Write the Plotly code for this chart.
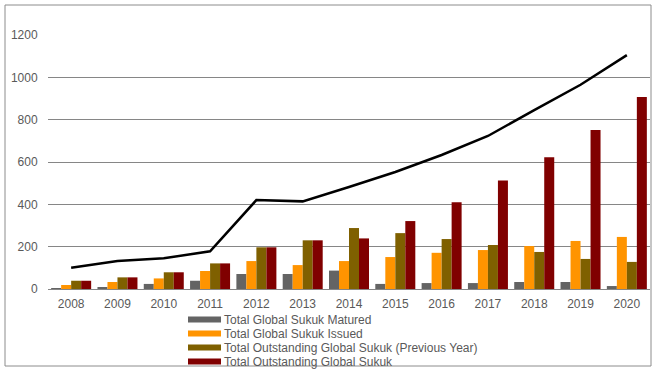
import plotly.graph_objects as go

years = ["2008", "2009", "2010", "2011", "2012", "2013", "2014",
         "2015", "2016", "2017", "2018", "2019", "2020"]
matured = [3, 9, 24, 39, 71, 71, 87, 24, 28, 28, 33, 33, 14]
issued = [19, 33, 50, 85, 132, 113, 132, 151, 171, 184, 203, 227, 246]
outstanding_prev = [39, 55, 79, 121, 197, 230, 288, 264, 236, 208, 175, 142, 128]
outstanding = [39, 55, 79, 121, 197, 230, 239, 321, 410, 513, 623, 751, 907]
total_line = [100, 132, 145, 178, 420, 414, 482, 553, 633, 723, 845, 965, 1105]

series_names = ["Total Global Sukuk Matured", "Total Global Sukuk Issued",
                "Total Outstanding Global Sukuk (Previous Year)",
                "Total Outstanding Global Sukuk"]
series_values = [matured, issued, outstanding_prev, outstanding]
series_colors = ["#646464", "#FF9400", "#7F6000", "#800000"]

W, H = 657, 373
L, R, T, B = 48, 7, 35, 84
PW, PH = W - L - R, H - T - B

def px(x):
    return (x - L) / PW

def py(y):
    return (H - B - y) / PH

fig = go.Figure()
for name, vals, col in zip(series_names, series_values, series_colors):
    fig.add_trace(go.Bar(x=years, y=vals, name=name, marker_color=col,
                         marker_line_width=0, showlegend=False))
fig.add_trace(go.Scatter(x=years, y=total_line, mode="lines",
                         line=dict(color="#000000", width=2.5),
                         showlegend=False))

shapes = [dict(type="rect", xref="paper", yref="paper",
               x0=px(5), x1=px(651), y0=py(366), y1=py(5),
               line=dict(color="#8C8C8C", width=1), fillcolor="rgba(0,0,0,0)")]
annotations = []
leg_y = [319.5, 333.5, 347.5, 361.5]
for name, col, yy in zip(series_names, series_colors, leg_y):
    shapes.append(dict(type="rect", xref="paper", yref="paper",
                       x0=px(188), x1=px(221), y0=py(yy + 3), y1=py(yy - 3),
                       line=dict(width=0), fillcolor=col))
    annotations.append(dict(text=name, xref="paper", yref="paper",
                            x=px(222), y=py(yy), xanchor="left", yanchor="middle",
                            showarrow=False,
                            font=dict(family="Liberation Sans, Arial", size=12,
                                      color="#595959")))

fig.update_layout(
    width=W, height=H,
    margin=dict(l=L, r=R, t=T, b=B, pad=0),
    paper_bgcolor="white", plot_bgcolor="white",
    barmode="group", bargap=0.136, bargroupgap=0,
    font=dict(family="Liberation Sans, Arial", size=12, color="#595959"),
    shapes=shapes, annotations=annotations,
    showlegend=False,
    xaxis=dict(type="category", showgrid=False, showline=True,
               linecolor="#868686", linewidth=1, ticks="outside",
               ticklen=4, tickcolor="rgba(0,0,0,0)",
               tickfont=dict(size=12, color="#595959")),
    yaxis=dict(range=[0, 1200], dtick=200, showgrid=True,
               gridcolor="#868686", gridwidth=1, zeroline=False,
               showline=False, ticks="outside", ticklen=7,
               tickcolor="rgba(0,0,0,0)",
               tickfont=dict(size=12, color="#595959")),
)

fig.write_html("out.html", config={"displayModeBar": False},
               post_script="document.body.style.margin='0';document.body.style.padding='0';")
